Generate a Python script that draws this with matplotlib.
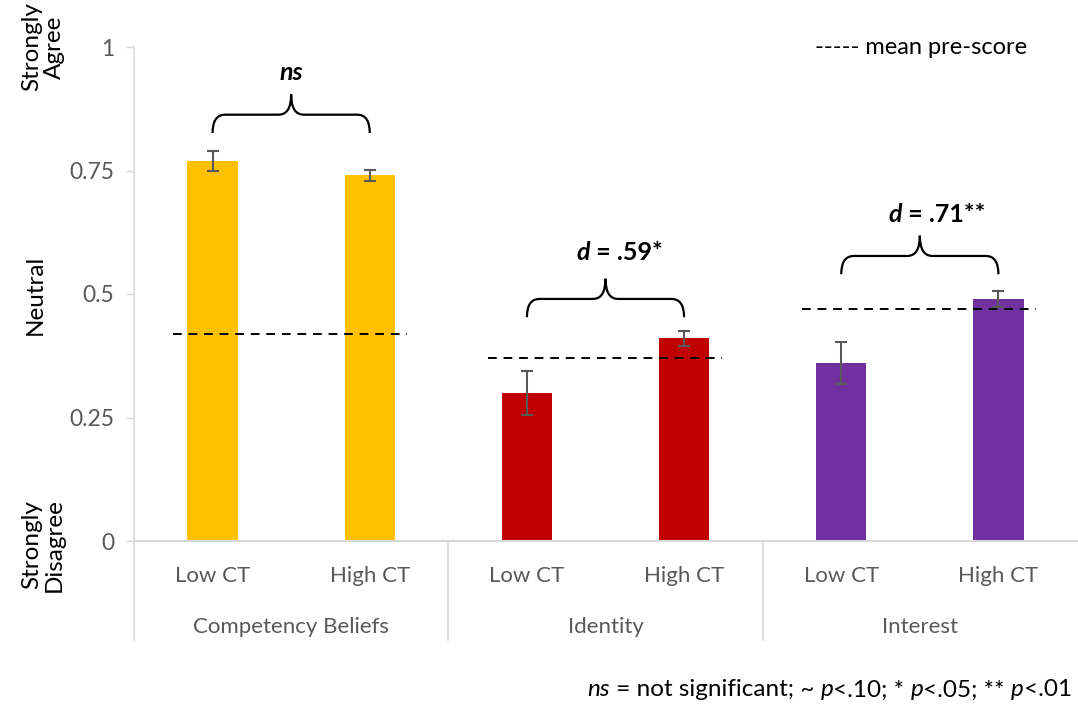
import matplotlib
matplotlib.use("Agg")
import matplotlib.pyplot as plt
from matplotlib.path import Path
from matplotlib.patches import PathPatch
from matplotlib.offsetbox import TextArea, HPacker, AnnotationBbox

plt.rcParams['font.family'] = ['Lato', 'DejaVu Sans']

# data
groups = ["Competency Beliefs", "Identity", "Interest"]
conditions = ["Low CT", "High CT"]
group_colors = ["#FFC000", "#C00000", "#7030A0"]
low_ct = [0.77, 0.30, 0.36]
high_ct = [0.74, 0.41, 0.49]
low_err = [0.02, 0.045, 0.043]
high_err = [0.012, 0.015, 0.017]
pre_score = [0.42, 0.37, 0.47]
effect_labels = [("ns", ""), ("d", " = .59*"), ("d", " = .71**")]
brace_base = [0.826, 0.453, 0.540]   # where the brace legs end
text_y = [0.949, 0.583, 0.660]
text_dx = [0.0, 0.09, 0.11]          # labels sit a little right of the brace tip

GRAY = "#595959"
LINE = "#D9D9D9"

fig = plt.figure(figsize=(10.78, 7.04), dpi=100)
ax = fig.add_axes([134 / 1078, 1 - 541 / 704, 943 / 1078, 494 / 704])

bar_w = 0.32
for g in range(len(groups)):
    xs = [2 * g, 2 * g + 1]
    vals = [low_ct[g], high_ct[g]]
    errs = [low_err[g], high_err[g]]
    ax.bar(xs, vals, width=bar_w, color=group_colors[g], zorder=2)
    ax.errorbar(xs, vals, yerr=errs, fmt="none", ecolor=GRAY, elinewidth=1.5,
                capsize=4, capthick=1.5, zorder=3)
    ax.plot([xs[0] - 0.25, xs[1] + 0.24], [pre_score[g]] * 2, color="black",
            linestyle=(0, (4.5, 3.5)), linewidth=1.4, zorder=4)

    # curly brace between the two bars
    x0, x1 = xs
    xm = (x0 + x1) / 2
    yb = brace_base[g]
    yh = yb + 0.037
    yt = yh + 0.041
    rx = 0.08
    verts = [(x0, yb), (x0, yh), (x0 + rx, yh),
             (xm - rx, yh), (xm, yh), (xm, yt),
             (xm, yh), (xm + rx, yh),
             (x1 - rx, yh), (x1, yh), (x1, yb)]
    codes = [Path.MOVETO, Path.CURVE3, Path.CURVE3,
             Path.LINETO, Path.CURVE3, Path.CURVE3,
             Path.CURVE3, Path.CURVE3,
             Path.LINETO, Path.CURVE3, Path.CURVE3]
    ax.add_patch(PathPatch(Path(verts, codes), facecolor="none",
                           edgecolor="black", linewidth=1.6, zorder=4))

    it, rest = effect_labels[g]
    parts = [TextArea(it, textprops=dict(fontsize=18, fontweight="bold",
                                         fontstyle="italic"))]
    if rest:
        parts.append(TextArea(rest, textprops=dict(fontsize=18, fontweight="bold")))
    box = HPacker(children=parts, pad=0, sep=0, align="baseline")
    ax.add_artist(AnnotationBbox(box, (xm + text_dx[g], text_y[g]), frameon=False,
                                 box_alignment=(0.5, 0.5), pad=0,
                                 annotation_clip=False))

ax.set_xlim(-0.5, 5.5)
ax.set_ylim(0, 1)
ax.set_yticks([0, 0.25, 0.5, 0.75, 1])
ax.set_yticklabels(["0", "0.25", "0.5", "0.75", "1"])
ax.tick_params(axis="y", colors=LINE, labelcolor=GRAY, labelsize=16.5,
               length=6, width=1, pad=8)
ax.set_xticks([])
for s in ax.spines.values():
    s.set_visible(False)

# axis lines, category separators and labels below the plot
xt = ax.get_xaxis_transform()
ax.plot([-0.5, -0.5], [1, -0.2], color=LINE, lw=1.2, transform=xt, clip_on=False)
ax.plot([1.5, 1.5], [0, -0.2], color=LINE, lw=1.2, transform=xt, clip_on=False)
ax.plot([3.5, 3.5], [0, -0.2], color=LINE, lw=1.2, transform=xt, clip_on=False)
ax.plot([-0.5, 5.5], [0, 0], color=LINE, lw=1.5, transform=xt, clip_on=False)
for g in range(len(groups)):
    for k, c in enumerate(conditions):
        ax.text(2 * g + k, -0.07, c, transform=xt, ha="center", va="center",
                fontsize=16, color=GRAY)
    ax.text(2 * g + 0.5, -0.175, groups[g], transform=xt, ha="center",
            va="center", fontsize=16, color=GRAY)

fig.text(43 / 1078, 1 - 47 / 704, "Strongly\nAgree", rotation=90, ha="center",
         va="center", fontsize=17.5, linespacing=1.1)
fig.text(35 / 1078, 1 - 295 / 704, "Neutral", rotation=90, ha="center",
         va="center", fontsize=17.5)
fig.text(43 / 1078, 1 - 545 / 704, "Strongly\nDisagree", rotation=90,
         ha="center", va="center", fontsize=17.5, linespacing=1.1)
fig.text(921 / 1078, 1 - 47 / 704, "----- mean pre-score", ha="center",
         va="center", fontsize=17)

# footnote
foot = [("ns", "italic"), (" = not significant; ~ ", "normal"), ("p", "italic"),
        ("<.10; * ", "normal"), ("p", "italic"), ("<.05; ** ", "normal"),
        ("p", "italic"), ("<.01", "normal")]
fbox = HPacker(children=[TextArea(t, textprops=dict(fontsize=17.5, fontstyle=s))
                         for t, s in foot], pad=0, sep=0, align="baseline")
fig.add_artist(AnnotationBbox(fbox, (1072 / 1078, 1 - 690 / 704),
                              xycoords="figure fraction", frameon=False,
                              box_alignment=(1, 0.5), pad=0))

fig.savefig("out.png", dpi=100)
